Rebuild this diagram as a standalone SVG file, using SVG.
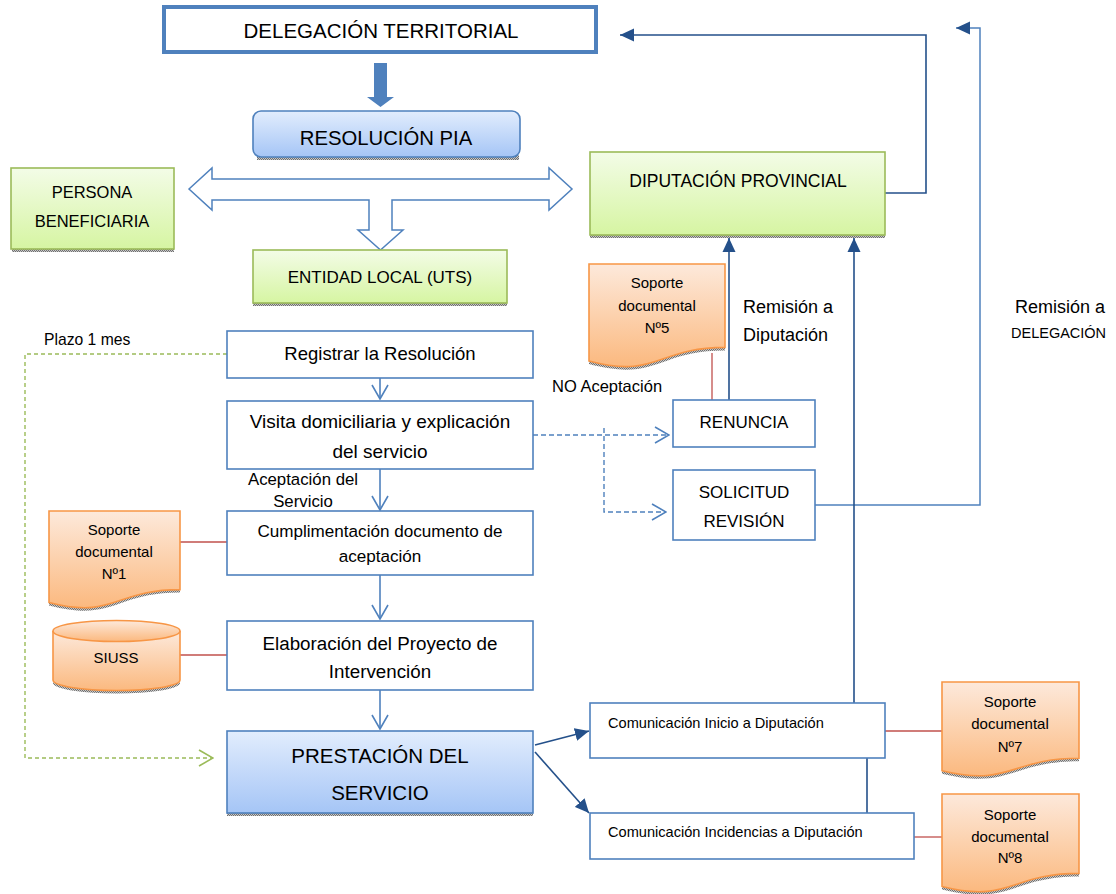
<svg xmlns="http://www.w3.org/2000/svg" width="1116" height="894" viewBox="0 0 1116 894">
<style>
text{font-family:"Liberation Sans",Arial,sans-serif;fill:#000;}
.c{text-anchor:middle;}
.box{fill:#fff;stroke:#4F81BD;stroke-width:1.6;}
.green{fill:url(#gGreen);stroke:#9BBB59;stroke-width:1.6;}
.blue{fill:url(#gBlue);stroke:#4F81BD;stroke-width:1.6;}
.doc{fill:url(#gOrange);stroke:#F79646;stroke-width:1.6;}
.shadow{fill:url(#hatch);}
.flow{fill:none;stroke:#4F81BD;stroke-width:1.6;marker-end:url(#vBlue);}
.dash{fill:none;stroke:#4F81BD;stroke-width:1.4;stroke-dasharray:5 3;}
.gdash{fill:none;stroke:#9BBB59;stroke-width:1.4;stroke-dasharray:4 3;}
.dark{fill:none;stroke:#24508A;stroke-width:1.6;}
.red{fill:none;stroke:#C0504D;stroke-width:1.3;}
.sd{font-size:15px;}
</style>
<defs>
<linearGradient id="gBlue" x1="0" y1="0" x2="0" y2="1"><stop offset="0" stop-color="#e2edfd"/><stop offset="1" stop-color="#a5c5f6"/></linearGradient>
<linearGradient id="gGreen" x1="0" y1="0" x2="0" y2="1"><stop offset="0" stop-color="#f3fce7"/><stop offset="1" stop-color="#d6f5a2"/></linearGradient>
<linearGradient id="gOrange" x1="0" y1="0" x2="0" y2="1"><stop offset="0" stop-color="#fde9db"/><stop offset="1" stop-color="#fbb97f"/></linearGradient>
<pattern id="hatch" width="2" height="2" patternUnits="userSpaceOnUse"><rect width="2" height="2" fill="#c8c8c8"/><rect width="1" height="1" fill="#707070"/><rect x="1" y="1" width="1" height="1" fill="#707070"/></pattern>
<marker id="vBlue" viewBox="0 0 16 18" refX="15" refY="9" markerWidth="16" markerHeight="18" markerUnits="userSpaceOnUse" orient="auto"><path d="M1,1 L15,9 L1,17" fill="none" stroke="#4F81BD" stroke-width="1.6"/></marker>
<marker id="vGreen" viewBox="0 0 16 18" refX="15" refY="9" markerWidth="16" markerHeight="18" markerUnits="userSpaceOnUse" orient="auto"><path d="M1,1 L15,9 L1,17" fill="none" stroke="#9BBB59" stroke-width="1.6"/></marker>
<marker id="tri" viewBox="0 0 14 14" refX="14" refY="7" markerWidth="14" markerHeight="14" markerUnits="userSpaceOnUse" orient="auto"><path d="M0,0.5 L14,7 L0,13.5 Z" fill="#24508A"/></marker>
<clipPath id="clipDip"><rect x="735" y="290" width="110" height="54"/></clipPath>
</defs>

<g id="connectors">
<path d="M374,63 H387 V97 H394 L380.5,107 L367,97 H374 Z" fill="#4F81BD"/>
<path d="M189,189 L212,168 V179 H549 V168 L572,189 L549,210 V200 H392 V230 H403 L380.5,250 L358,230 H369 V200 H212 V210 Z" fill="#fff" stroke="#4F81BD" stroke-width="1.5"/>
<path class="dark" d="M885,193 H926 V35 H620" marker-end="url(#tri)"/>
<path d="M815,505 H980 V28 H956" fill="none" stroke="#4F81BD" stroke-width="1.5" marker-end="url(#tri)"/>
<path class="dark" d="M729,400 V238" marker-end="url(#tri)"/>
<path class="dark" d="M854,703 V238" marker-end="url(#tri)"/>
<path class="dark" d="M867,813 V758"/>
<path class="dark" d="M535,745 L589,731" marker-end="url(#tri)"/>
<path class="dark" d="M535,752 L589,813" marker-end="url(#tri)"/>
<path class="flow" d="M380,378 V399"/>
<path class="flow" d="M380,469 V510"/>
<path class="flow" d="M380,575 V619"/>
<path class="flow" d="M380,690 V729"/>
<path class="dash" d="M533,435 H669" marker-end="url(#vBlue)"/>
<path class="dash" d="M604,428 V512 H666" marker-end="url(#vBlue)"/>
<path class="gdash" d="M227,354 H25 V758 H213" marker-end="url(#vGreen)"/>
<path class="red" d="M180,542 H227"/>
<path class="red" d="M180,655 H227"/>
<path class="red" d="M712,353 V400"/>
<path class="red" d="M885,731 H942"/>
<path class="red" d="M914,837 H942"/>
</g>

<g id="delegacion">
<rect x="164" y="7" width="432" height="45" fill="#fff" stroke="#4F81BD" stroke-width="4"/>
<text class="c" x="381" y="38" font-size="20.5">DELEGACIÓN TERRITORIAL</text>
</g>

<g id="resolucion">
<rect class="shadow" x="257" y="155" width="262" height="5"/>
<rect class="blue" x="253" y="111" width="267" height="46" rx="8"/>
<text class="c" x="386" y="145" font-size="20.3">RESOLUCIÓN PIA</text>
</g>

<g id="persona">
<rect class="shadow" x="12" y="247" width="162" height="5"/>
<rect class="green" x="11" y="168" width="163" height="81"/>
<text class="c" x="92" y="198" font-size="16.5">PERSONA</text>
<text class="c" x="92" y="227" font-size="16.5">BENEFICIARIA</text>
</g>

<g id="entidad">
<rect class="shadow" x="253" y="301" width="254" height="5"/>
<rect class="green" x="253" y="250" width="254" height="53"/>
<text class="c" x="380" y="283" font-size="17">ENTIDAD LOCAL (UTS)</text>
</g>

<g id="diputacion">
<rect class="shadow" x="590" y="233" width="295" height="5"/>
<rect class="green" x="590" y="152" width="295" height="83"/>
<text class="c" x="738" y="187" font-size="17.5">DIPUTACIÓN PROVINCIAL</text>
</g>

<g id="labels">
<text x="44" y="345" font-size="15.7">Plazo 1 mes</text>
<text class="c" x="303" y="485" font-size="16.8">Aceptación del</text>
<text class="c" x="303" y="507" font-size="16.8">Servicio</text>
<text x="552" y="392" font-size="16.5">NO Aceptación</text>
<text x="743" y="313" font-size="18">Remisión a</text>
<text x="743" y="341" font-size="18" clip-path="url(#clipDip)">Diputación</text>
<text x="1015" y="313" font-size="18">Remisión a</text>
<text x="1011" y="338" font-size="14.5">DELEGACIÓN</text>
</g>

<g id="registrar">
<rect class="box" x="227" y="331" width="306" height="47"/>
<text class="c" x="380" y="360" font-size="18.5">Registrar la Resolución</text>
</g>

<g id="visita">
<rect class="box" x="227" y="401" width="306" height="68"/>
<text class="c" x="380" y="428" font-size="19">Visita domiciliaria y explicación</text>
<text class="c" x="380" y="458" font-size="19">del servicio</text>
</g>

<g id="cumplimentacion">
<rect class="box" x="227" y="511" width="306" height="64"/>
<text class="c" x="380" y="537" font-size="17.1">Cumplimentación documento de</text>
<text class="c" x="380" y="562" font-size="17.1">aceptación</text>
</g>

<g id="elaboracion">
<rect class="box" x="227" y="621" width="306" height="69"/>
<text class="c" x="380" y="650" font-size="18.8">Elaboración del Proyecto de</text>
<text class="c" x="380" y="678" font-size="18.8">Intervención</text>
</g>

<g id="prestacion">
<rect class="shadow" x="227" y="811" width="306" height="5"/>
<rect class="blue" x="227" y="731" width="306" height="82"/>
<text class="c" x="380" y="763" font-size="20.5">PRESTACIÓN DEL</text>
<text class="c" x="380" y="800" font-size="20.5">SERVICIO</text>
</g>

<g id="soporte1">
<path class="shadow" d="M49,513 H180 V592.6 C114.5,592.6 114.5,622.5 49,605.5 Z"/>
<path class="doc" d="M49,511 H180 V589.6 C114.5,589.6 114.5,619.5 49,602.5 Z"/>
<text class="c sd" x="114" y="535">Soporte</text>
<text class="c sd" x="114" y="557">documental</text>
<text class="c sd" x="114" y="579">Nº1</text>
</g>

<g id="siuss">
<path class="shadow" d="M53,634 V683 A63.5,10.5 0 0 0 180,683 V634 Z"/>
<path class="doc" d="M53,631 V680 A63.5,10.5 0 0 0 180,680 V631"/>
<ellipse class="doc" cx="116.5" cy="631" rx="63.5" ry="10.5"/>
<text class="c sd" x="116" y="663">SIUSS</text>
</g>

<g id="soporte5">
<path class="shadow" d="M589,266 H725 V350.4 C657,350.4 657,382.2 589,364.1 Z"/>
<path class="doc" d="M589,264 H725 V347.4 C657,347.4 657,379.2 589,361.1 Z"/>
<text class="c sd" x="657" y="288">Soporte</text>
<text class="c sd" x="657" y="311">documental</text>
<text class="c sd" x="657" y="333">Nº5</text>
</g>

<g id="renuncia">
<rect class="box" x="673" y="400" width="142" height="47"/>
<text class="c" x="744" y="428" font-size="17">RENUNCIA</text>
</g>

<g id="solicitud">
<rect class="box" x="673" y="470" width="142" height="70"/>
<text class="c" x="744" y="498" font-size="17">SOLICITUD</text>
<text class="c" x="744" y="527" font-size="17">REVISIÓN</text>
</g>

<g id="com-inicio">
<rect class="box" x="590" y="703" width="295" height="55"/>
<text x="608" y="728" font-size="14.6">Comunicación Inicio a Diputación</text>
</g>

<g id="com-incidencias">
<rect class="box" x="590" y="813" width="324" height="46"/>
<text x="608" y="837" font-size="14.6">Comunicación Incidencias a Diputación</text>
</g>

<g id="soporte7">
<path class="shadow" d="M942,684 H1079 V761.2 C1010.5,761.2 1010.5,790.2 942,773.7 Z"/>
<path class="doc" d="M942,682 H1079 V758.2 C1010.5,758.2 1010.5,787.2 942,770.7 Z"/>
<text class="c sd" x="1010" y="707">Soporte</text>
<text class="c sd" x="1010" y="729">documental</text>
<text class="c sd" x="1010" y="752">Nº7</text>
</g>

<g id="soporte8">
<path class="shadow" d="M942,796 H1079 V876.4 C1010.5,876.4 1010.5,906.6 942,889.5 Z"/>
<path class="doc" d="M942,794 H1079 V873.4 C1010.5,873.4 1010.5,903.6 942,886.5 Z"/>
<text class="c sd" x="1010" y="820">Soporte</text>
<text class="c sd" x="1010" y="842">documental</text>
<text class="c sd" x="1010" y="863">Nº8</text>
</g>
</svg>
